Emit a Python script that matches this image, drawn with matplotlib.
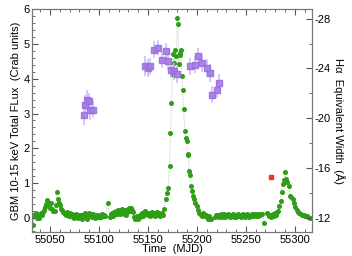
import matplotlib
matplotlib.use("Agg")
import matplotlib.pyplot as plt
from matplotlib.ticker import MultipleLocator

plt.rcParams['font.family'] = ['Liberation Sans', 'DejaVu Sans']

# GBM 10-15 keV flux (Crab units)
gbm_mjd = [
    55033, 55034, 55035, 55036, 55037, 55038, 55039, 55040, 55041, 55042,
    55043, 55044, 55045, 55046, 55047, 55048, 55049, 55050, 55051, 55052,
    55053, 55055, 55056, 55057, 55058, 55059, 55060, 55061, 55062, 55063,
    55064, 55065, 55066, 55067, 55068, 55069, 55070, 55071, 55072, 55073,
    55074, 55075, 55076, 55077, 55078, 55079, 55080, 55081, 55082, 55083,
    55084, 55085, 55086, 55087, 55088, 55089, 55090, 55091, 55092, 55093,
    55094, 55095, 55096, 55097, 55098, 55099, 55100, 55101, 55102, 55103,
    55104, 55105, 55106, 55109.5, 55111, 55112, 55113, 55114, 55115, 55116,
    55117, 55118, 55119, 55120, 55121, 55122, 55123, 55124, 55125, 55126,
    55127, 55128, 55129, 55130, 55131, 55132, 55133, 55134, 55135, 55136,
    55137, 55138, 55139, 55140, 55141, 55142, 55143, 55144, 55145, 55146,
    55147, 55148, 55149, 55150, 55151, 55152, 55153, 55154, 55155, 55156,
    55157, 55158, 55159, 55160, 55161, 55162, 55163, 55164, 55165, 55166.5,
    55168, 55169.5, 55170.5, 55172, 55173, 55174, 55175, 55175.5, 55176, 55177,
    55178, 55179, 55179.8, 55180.8, 55181.5, 55182.3, 55183, 55183.8, 55184.5, 55185.5,
    55186.5, 55187.5, 55188.5, 55189.5, 55190.5, 55191.3, 55192, 55193, 55194, 55195,
    55196, 55197, 55198.5, 55200, 55201, 55202, 55204, 55205, 55206, 55207,
    55208, 55209, 55210, 55211, 55212, 55213, 55214, 55218, 55219, 55220,
    55221, 55222, 55223, 55224, 55225, 55226, 55227, 55228, 55229, 55230,
    55231, 55232, 55233, 55234, 55235, 55236, 55237, 55238, 55239, 55240,
    55241, 55242, 55243, 55244, 55245, 55246, 55247, 55248, 55249, 55250,
    55251, 55252, 55253, 55254, 55255, 55256, 55257, 55258, 55259, 55260,
    55261, 55262, 55263, 55264, 55266, 55268.7, 55272, 55273, 55274, 55275,
    55276, 55277, 55278, 55279, 55280, 55281, 55282, 55283, 55284, 55285.5,
    55286.5, 55287.5, 55288.4, 55289.8, 55291.1, 55292.4, 55293.7, 55295, 55296.3, 55297.7,
    55299, 55300.3, 55301.7, 55303, 55304.5, 55306, 55307.5, 55309, 55310.5, 55312,
    55313.5, 55315,
]
gbm_flux = [
    -0.22, 0.08, 0.05, 0.12, 0.00, 0.07, -0.02, 0.10, 0.13, 0.08,
    0.17, 0.22, 0.30, 0.40, 0.50, 0.45, 0.36, 0.28, 0.42, 0.25,
    0.20, 0.18, 0.35, 0.74, 0.53, 0.42, 0.35, 0.26, 0.22, 0.16,
    0.14, 0.10, 0.06, 0.16, 0.10, 0.04, 0.12, 0.05, 0.09, 0.02,
    0.06, 0.00, 0.05, 0.09, 0.02, -0.02, 0.06, 0.01, 0.08, -0.04,
    0.03, 0.09, 0.12, 0.04, -0.03, 0.06, 0.12, 0.03, 0.09, 0.01,
    0.11, 0.05, -0.02, 0.04, 0.08, 0.02, 0.01, 0.07, 0.02, 0.09,
    0.03, 0.06, 0.05, 0.41, 0.02, 0.09, 0.13, 0.05, 0.16, 0.09,
    0.19, 0.11, 0.21, 0.14, 0.09, 0.23, 0.15, 0.26, 0.17, 0.11,
    0.21, 0.07, 0.15, 0.25, 0.28, 0.19, 0.27, 0.22, 0.17, 0.01,
    -0.05, 0.00, 0.04, -0.03, 0.05, 0.01, 0.09, 0.13, 0.05, 0.17,
    0.20, 0.09, 0.14, 0.07, 0.13, 0.03, 0.11, 0.16, 0.07, 0.12,
    0.04, 0.10, 0.15, 0.07, 0.12, 0.05, 0.10, 0.13, 0.08, 0.24,
    0.53, 0.70, 0.84, 1.49, 2.45, 3.31, 4.13, 4.23, 4.72, 4.45,
    4.83, 4.65, 5.76, 5.57, 4.43, 4.75, 4.70, 4.82, 4.08, 3.67,
    3.12, 2.49, 2.30, 2.20, 1.82, 1.80, 1.34, 1.23, 0.91, 0.77,
    0.62, 0.53, 0.41, 0.32, 0.22, 0.14, 0.08, 0.05, 0.12, 0.10,
    0.04, 0.08, 0.01, -0.03, 0.04, 0.00, -0.05, 0.02, 0.06, 0.08,
    0.03, 0.07, 0.01, 0.06, 0.10, 0.02, 0.05, 0.09, 0.01, 0.06,
    0.03, 0.10, 0.05, 0.01, 0.07, 0.03, 0.09, 0.02, 0.06, 0.01,
    0.05, 0.10, 0.04, 0.08, 0.02, 0.06, 0.09, 0.03, 0.01, 0.06,
    0.10, 0.05, 0.02, 0.08, 0.03, 0.09, 0.05, 0.11, 0.06, 0.03,
    0.09, 0.05, 0.10, 0.06, 0.11, -0.16, 0.14, 0.09, 0.04, 0.08,
    0.01, 0.06, 0.10, 0.03, 0.12, 0.08, 0.15, 0.20, 0.33, 0.48,
    0.75, 0.96, 1.08, 1.30, 1.10, 1.03, 0.91, 0.62, 0.58, 0.53,
    0.41, 0.29, 0.22, 0.16, 0.12, 0.10, 0.07, 0.06, 0.04, 0.03,
    0.02, 0.00,
]

# H-alpha equivalent width (Angstrom)
ha_mjd = [
    55084.7, 55085.7, 55087.4, 55089.5, 55090.8, 55093.6,
    55147.2, 55149.7, 55152.0, 55156.4, 55160.2, 55164.3, 55168.4, 55170.4,
    55173.5, 55176.2, 55179.3,
    55192.9, 55198.0, 55201.0, 55205.1, 55210.2, 55213.0, 55215.3, 55220.1, 55222.2,
]
ha_ew = [
    -20.27, -21.07, -21.47, -21.34, -20.67, -20.67,
    -24.17, -24.04, -24.17, -25.51, -25.65, -24.71, -25.38, -24.57,
    -23.91, -23.77, -23.56,
    -24.17, -24.31, -24.97, -24.44, -24.04, -23.64, -21.88, -22.30, -22.84,
]
ha_err = [
    0.8, 0.8, 0.8, 0.7, 0.8, 0.7,
    0.8, 0.7, 0.7, 0.7, 0.6, 0.7, 0.7, 0.7,
    0.7, 0.7, 0.7,
    0.7, 0.7, 0.7, 0.7, 0.7, 0.7, 0.7, 0.7, 0.7,
]

# single red point
red_mjd = [55275.5]
red_ew = [-15.26]


def main():
    fig = plt.figure(figsize=(3.52, 2.56), dpi=100)
    ax = fig.add_axes([0.092, 0.092, 0.793, 0.871])
    ax2 = ax.twinx()

    ax.plot(gbm_mjd, gbm_flux, linestyle=':', color='#bbbbbb', linewidth=0.7,
            marker='o', markersize=2.6, markerfacecolor='#2f9e17',
            markeredgecolor='#2f9e17', zorder=3)

    ax2.errorbar(ha_mjd, ha_ew, yerr=ha_err, fmt='s', markersize=4.5,
                 color='#a57be6', ecolor='#cdb5f3', elinewidth=1.2,
                 markeredgecolor='#9a6fe0', capsize=0, alpha=0.9)
    ax2.plot(red_mjd, red_ew, 's', markersize=3.5, color='#f03030')

    ax.set_xlim(55032, 55317)
    ax.set_ylim(-0.43, 6.0)
    ax2.set_ylim(-10.8, -28.74)

    ax.xaxis.set_major_locator(MultipleLocator(50))
    ax.xaxis.set_minor_locator(MultipleLocator(10))
    ax.yaxis.set_major_locator(MultipleLocator(1))
    ax.yaxis.set_minor_locator(MultipleLocator(0.2))
    ax2.yaxis.set_major_locator(MultipleLocator(4))
    ax2.yaxis.set_minor_locator(MultipleLocator(2))

    ax.tick_params(which='both', direction='in', top=True, right=False,
                   labelsize=8, pad=2, color='#555555')
    ax.tick_params(which='major', length=4)
    ax.tick_params(which='minor', length=2)
    ax2.tick_params(which='both', direction='in', labelsize=8, pad=2,
                    color='#555555')
    ax2.tick_params(which='major', length=4)
    ax2.tick_params(which='minor', length=2)
    ax2.set_yticklabels([f"-{abs(int(v))}" for v in ax2.get_yticks()])

    for a in (ax, ax2):
        for sp in a.spines.values():
            sp.set_color('#777777')
            sp.set_linewidth(0.8)

    ax.set_xlabel("Time  (MJD)", fontsize=8, labelpad=-1)
    ax.set_ylabel("GBM 10-15 keV Total FLux  (Crab units)", fontsize=8, labelpad=2)
    ax2.set_ylabel("H\u03b1  Equivalent Width  (\u00c5)", fontsize=8,
                   rotation=270, labelpad=10)

    fig.savefig("out.png", dpi=100)
    plt.close(fig)


if __name__ == "__main__":
    main()
